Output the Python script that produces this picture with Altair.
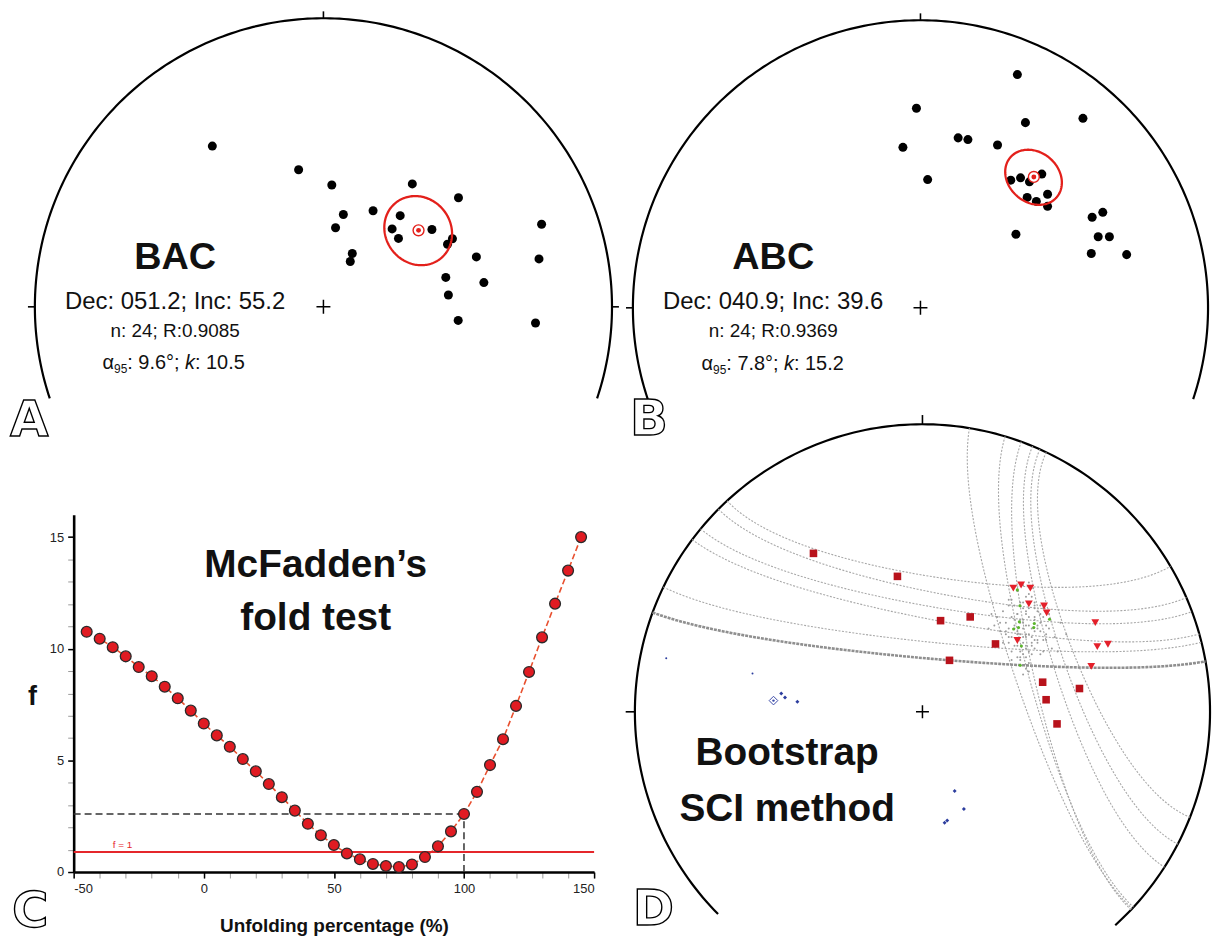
import numpy as np
import pandas as pd
import altair as alt

FONT = "Liberation Sans, Arial, Helvetica, sans-serif"
LETTER_FONT = "DejaVu Sans, Liberation Sans, Arial, sans-serif"
RED = "#e3201b"

# ------------------------------------------------------------------ data
# Panel A - BAC directions, equal-area positions (primitive radius = 1)
bac_east = [-0.385, -0.086, 0.029, 0.308, 0.468, 0.069, 0.172, 0.266, 0.042, 0.238, 0.376, 0.260,
            0.447, 0.430, 0.100, 0.093, 0.530, 0.756, 0.747, 0.424, 0.556, 0.433, 0.467, 0.735]
bac_north = [0.557, 0.475, 0.422, 0.426, 0.378, 0.320, 0.333, 0.316, 0.274, 0.270, 0.268, 0.237,
             0.236, 0.217, 0.185, 0.157, 0.173, 0.286, 0.166, 0.102, 0.084, 0.041, -0.047, -0.056]
bac_mean = [51.2, 55.2]          # Dec, Inc
bac_a95 = 9.6
bac_lines = ["BAC", "Dec: 051.2; Inc: 55.2", "n: 24; R:0.9085"]
bac_stats = [": 9.6°; ", ": 10.5"]

# Panel B - ABC directions
abc_east = [0.337, -0.014, 0.365, 0.565, 0.131, 0.165, -0.061, 0.268, 0.025, 0.314, 0.348, 0.379,
            0.422, 0.371, 0.403, 0.442, 0.442, 0.332, 0.597, 0.634, 0.618, 0.657, 0.594, 0.717]
abc_north = [0.811, 0.694, 0.644, 0.659, 0.591, 0.585, 0.558, 0.566, 0.446, 0.444, 0.452, 0.438,
             0.465, 0.384, 0.370, 0.395, 0.353, 0.256, 0.315, 0.332, 0.247, 0.247, 0.189, 0.185]
abc_mean = [40.9, 39.6]
abc_a95 = 7.8
abc_lines = ["ABC", "Dec: 040.9; Inc: 39.6", "n: 24; R:0.9369"]
abc_stats = [": 7.8°; ", ": 15.2"]

# Panel C - McFadden's fold test
fold_pct = [-45, -40, -35, -30, -25, -20, -15, -10, -5, 0, 5, 10, 15, 20, 25, 30, 35, 40, 45, 50,
            55, 60, 65, 70, 75, 80, 85, 90, 95, 100, 105, 110, 115, 120, 125, 130, 135, 140, 145]
fold_f = [10.76, 10.45, 10.07, 9.66, 9.18, 8.77, 8.30, 7.78, 7.23, 6.65, 6.12, 5.61, 5.06, 4.51,
          3.94, 3.35, 2.75, 2.16, 1.65, 1.21, 0.83, 0.57, 0.36, 0.27, 0.22, 0.34, 0.67, 1.15,
          1.82, 2.60, 3.59, 4.79, 5.95, 7.44, 8.96, 10.51, 12.02, 13.50, 15.00]
fold_f_one = 0.9
fold_crit_f = 2.6
fold_crit_pct = 100

# Panel D - bootstrap SCI: small circles (horizontal axis azimuth, half angle)
sci_axis_az = [8.4, 10.7, 9.55, 10.55, 5.85, 5.05, 71.3, 74.75, 76.8, 72.6, 70.75, 68.5]
sci_half = [51.2, 55.9, 60.05, 63.75, 70.15, 74.85, 61.9, 58.05, 56.7, 50.1, 46.65, 43.0]
sci_thick = [0, 0, 0, 0, 0, 1, 0, 0, 0, 0, 0, 0]
sq_east = [-0.379, -0.087, 0.063, 0.166, 0.254, 0.094, 0.418, 0.546, 0.430, 0.468]
sq_north = [0.551, 0.471, 0.317, 0.330, 0.236, 0.179, 0.103, 0.081, 0.042, -0.042]
tri_east = [0.316, 0.343, 0.375, 0.370, 0.423, 0.432, 0.601, 0.330, 0.608, 0.645, 0.587]
tri_north = [0.430, 0.441, 0.430, 0.375, 0.368, 0.344, 0.310, 0.248, 0.227, 0.235, 0.158]
grn_east = [0.330, 0.339, 0.442, 0.337, 0.334, 0.317, 0.389, 0.387, 0.344, 0.340]
grn_north = [0.424, 0.369, 0.322, 0.313, 0.293, 0.288, 0.307, 0.293, 0.229, 0.162]
blue_east = [-0.491, -0.478, -0.435, 0.112, 0.144, 0.077, 0.086]
blue_north = [0.064, 0.050, 0.035, -0.275, -0.338, -0.386, -0.378]
blue_tiny_east = [-0.891, -0.591]
blue_tiny_north = [0.186, 0.133]
blue_mean = [-0.518, 0.039]
cloud_east = [0.36, 0.33, 0.39, 0.35, 0.31, 0.41, 0.37, 0.34, 0.38, 0.32,
              0.40, 0.36, 0.29, 0.43, 0.35, 0.37, 0.33, 0.39, 0.30, 0.42,
              0.34, 0.38, 0.36, 0.32, 0.44, 0.27, 0.37, 0.40, 0.35, 0.31,
              0.39, 0.33, 0.46, 0.36, 0.25, 0.38, 0.34, 0.41, 0.30, 0.37,
              0.35, 0.42, 0.28, 0.39, 0.33, 0.36, 0.48, 0.31, 0.38, 0.23,
              0.34, 0.40, 0.37, 0.32, 0.45, 0.36, 0.29, 0.41, 0.35, 0.39,
              0.26, 0.43, 0.33, 0.37, 0.50, 0.30, 0.38, 0.35, 0.42, 0.32,
              0.31, 0.35, 0.38, 0.33, 0.40, 0.36, 0.29, 0.42, 0.37, 0.34,
              0.39, 0.32, 0.36, 0.41, 0.28, 0.35, 0.38, 0.33, 0.44, 0.30,
              0.37, 0.34, 0.40, 0.36, 0.31, 0.39, 0.35, 0.27, 0.43, 0.38,
              0.33, 0.36, 0.41, 0.30, 0.37, 0.24, 0.47, 0.34, 0.39, 0.35]
cloud_north = [0.30, 0.27, 0.32, 0.24, 0.33, 0.28, 0.36, 0.21, 0.26, 0.29,
               0.35, 0.19, 0.31, 0.25, 0.38, 0.30, 0.34, 0.22, 0.26, 0.33,
               0.27, 0.40, 0.23, 0.37, 0.29, 0.28, 0.17, 0.24, 0.32, 0.21,
               0.28, 0.42, 0.26, 0.34, 0.30, 0.20, 0.31, 0.37, 0.24, 0.27,
               0.44, 0.21, 0.35, 0.36, 0.25, 0.15, 0.31, 0.39, 0.23, 0.29,
               0.18, 0.30, 0.41, 0.32, 0.22, 0.26, 0.27, 0.34, 0.13, 0.38,
               0.33, 0.30, 0.19, 0.45, 0.27, 0.37, 0.16, 0.29, 0.25, 0.23,
               0.26, 0.31, 0.29, 0.34, 0.25, 0.22, 0.28, 0.36, 0.33, 0.19,
               0.37, 0.30, 0.27, 0.31, 0.24, 0.36, 0.24, 0.28, 0.34, 0.39,
               0.21, 0.32, 0.29, 0.40, 0.18, 0.25, 0.20, 0.31, 0.27, 0.43,
               0.23, 0.35, 0.20, 0.29, 0.14, 0.34, 0.21, 0.38, 0.33, 0.26]


# ------------------------------------------------------------------ geometry helpers
def eqarea(dec, inc):
    d = np.radians(np.asarray(dec, float))
    i = np.radians(np.asarray(inc, float))
    r = np.sqrt(2.0) * np.sin((np.pi / 2 - i) / 2)
    return r * np.sin(d), r * np.cos(d)


def vec_proj(n, e, z):
    dec = np.degrees(np.arctan2(e, n))
    inc = np.degrees(np.arcsin(np.clip(z, -1, 1)))
    return eqarea(dec, inc)


def cone(dec, inc, ang, n=181):
    d, i, a = np.radians([dec, inc, ang])
    m = np.array([np.cos(i) * np.cos(d), np.cos(i) * np.sin(d), np.sin(i)])
    u = np.cross(m, [0, 0, 1.0]); u /= np.linalg.norm(u)
    v = np.cross(m, u)
    t = np.linspace(0, 2 * np.pi, n)
    p = np.cos(a) * m[:, None] + np.sin(a) * (np.outer(u, np.cos(t)) + np.outer(v, np.sin(t)))
    return vec_proj(*p)


def sci_arc(beta, psi, n=121):
    b, s = np.radians([beta, psi])
    a = np.array([np.cos(b), np.sin(b), 0.0])
    w = np.array([-np.sin(b), np.cos(b), 0.0])
    down = np.array([0.0, 0.0, 1.0])
    t = np.linspace(-np.pi / 2, np.pi / 2, n)
    p = np.cos(s) * a[:, None] + np.sin(s) * (np.outer(down, np.cos(t)) + np.outer(w, np.sin(t)))
    return vec_proj(*p)


def primitive(az0, az1, n=240):
    az = np.radians(np.linspace(az0, az1, n))
    return np.sin(az), np.cos(az)


def lines_df(curves):
    rows = []
    for g, (xs, ys) in enumerate(curves):
        for i, (a, b) in enumerate(zip(xs, ys)):
            rows.append((g, i, float(a), float(b)))
    return pd.DataFrame(rows, columns=["g", "i", "x", "y"])


def pos(xd, yd):
    return {"x": alt.X("x:Q", scale=alt.Scale(domain=xd, nice=False, zero=False), axis=None),
            "y": alt.Y("y:Q", scale=alt.Scale(domain=yd, nice=False, zero=False), axis=None)}


def L_line(df, xd, yd, **mk):
    return alt.Chart(df).mark_line(**mk).encode(**pos(xd, yd), order=alt.Order("i:Q"), detail="g:N")


def L_pts(x, y, xd, yd, **mk):
    return alt.Chart(pd.DataFrame({"x": x, "y": y})).mark_point(**mk).encode(**pos(xd, yd))


def L_text(x, y, t, xd, yd, **mk):
    df = pd.DataFrame({"x": [x], "y": [y], "t": [t]})
    return alt.Chart(df).mark_text(**mk).encode(**pos(xd, yd), text="t:N")


def L_rules(x, y, x2, y2, xd, yd, **mk):
    df = pd.DataFrame({"x": x, "y": y, "x2": x2, "y2": y2})
    return alt.Chart(df).mark_rule(**mk).encode(**pos(xd, yd), x2="x2:Q", y2="y2:Q")


PLUS = "M-1,0L1,0M0,-1L0,1"


def frame(xd, yd, az0, az1, tick_az, tick_len, plus_size):
    px, py = primitive(az0, az1)
    out = [L_line(lines_df([(px, py)]), xd, yd, color="black", strokeWidth=2.2)]
    ta = np.radians(tick_az)
    out.append(L_rules(list(np.sin(ta)), list(np.cos(ta)),
                       list(np.sin(ta) * (1 + tick_len)), list(np.cos(ta) * (1 + tick_len)),
                       xd, yd, color="black", strokeWidth=1.6))
    out.append(L_pts([0.0], [0.0], xd, yd, shape=PLUS, filled=False, color="black",
                     strokeWidth=1.5, size=plus_size, opacity=1))
    return out


def letter(x, y, t, xd, yd):
    return L_text(x, y, t, xd, yd, font=LETTER_FONT, fontSize=50, fontWeight="bold", fill="white",
                  stroke="black", strokeWidth=1.4, align="left", baseline="alphabetic")


def mean_panel(east, north, mean, a95, lines, stats, tag, w, h, cx, cy, R, tcx, ys, ax0, ticks):
    xd = [-cx / R, (w - cx) / R]
    yd = [-(h - cy) / R, cy / R]
    L = frame(xd, yd, -108.5, 108.5, ticks, 0.024, 196)
    L.append(L_pts(east, north, xd, yd, filled=True, color="black", size=82, opacity=1))
    cxs, cys = cone(mean[0], mean[1], a95)
    L.append(L_line(lines_df([(cxs, cys)]), xd, yd, color=RED, strokeWidth=2.3))
    mx, my = eqarea(mean[0], mean[1])
    L.append(L_pts([float(mx)], [float(my)], xd, yd, filled=True, fill="white", stroke=RED,
                   strokeWidth=1.4, size=120, opacity=1))
    L.append(L_pts([float(mx)], [float(my)], xd, yd, filled=True, color=RED, size=24, opacity=1))
    L.append(L_text(tcx, ys[0], lines[0], xd, yd, font=FONT, fontSize=38, fontWeight="bold",
                    color="#111", align="center", baseline="alphabetic"))
    L.append(L_text(tcx, ys[1], lines[1], xd, yd, font=FONT, fontSize=24, color="#111",
                    align="center", baseline="alphabetic"))
    L.append(L_text(tcx, ys[2], lines[2], xd, yd, font=FONT, fontSize=19, color="#111",
                    align="center", baseline="alphabetic"))
    # alpha95 line built from segments (alpha, subscript 95, value, italic k, value)
    offs = [0, 11.6, 24.9, 82.9, 92.9]
    segs = [("α", 20, "normal", 0), ("95", 12, "normal", 4), (stats[0], 20, "normal", 0),
            ("k", 20, "italic", 0), (stats[1], 20, "normal", 0)]
    for off, (t, fs, st, dy) in zip(offs, segs):
        L.append(L_text(ax0 + off / R, ys[3], t, xd, yd, font=FONT, fontSize=fs, fontStyle=st,
                        dy=dy, color="#111", align="left", baseline="alphabetic"))
    L.append(letter(tag[1], tag[2], tag[0], xd, yd))
    return alt.layer(*L).properties(width=w, height=h)


# ------------------------------------------------------------------ panel A / B
panelA = mean_panel(bac_east, bac_north, bac_mean, bac_a95, bac_lines, bac_stats,
                    ("A", -1.086, -0.448), 612, 402, 317, 297, 290, -0.514,
                    [0.132, -0.008, -0.103, -0.217], -0.7655, [0, 270, 90])
panelB = mean_panel(abc_east, abc_north, abc_mean, abc_a95, abc_lines, abc_stats,
                    ("B", -1.010, -0.443), 595, 402, 305, 298, 289, -0.512,
                    [0.136, -0.0045, -0.100, -0.2156], -0.7612, [0, 270])

# ------------------------------------------------------------------ panel C
dfC = pd.DataFrame({"u": fold_pct, "f": fold_f})
xsc = alt.Scale(domain=[-50, 150], nice=False, zero=False)
ysc = alt.Scale(domain=[0, 16], nice=False, zero=False)


def cx_(field="u", axis=None):
    return alt.X(f"{field}:Q", scale=xsc, axis=axis)


def cy_(field="f", axis=None):
    return alt.Y(f"{field}:Q", scale=ysc, axis=axis)


minor_x = alt.Axis(values=list(range(-50, 151, 10)), labels=False, ticks=True, tickColor="#9a9a9a",
                   tickSize=6, tickWidth=1, domain=False, grid=False, title=None, orient="bottom")
minor_y = alt.Axis(values=list(range(0, 16)), labels=False, ticks=True, tickColor="#9a9a9a",
                   tickSize=6, tickWidth=1, domain=False, grid=False, title=None, orient="left")
major_x = alt.Axis(values=[-50, 0, 50, 100, 150], labelFont=FONT, labelFontSize=13,
                   labelColor="#222", labelPadding=5, tickColor="black", tickSize=6, tickWidth=1.5,
                   domainColor="black", domainWidth=2.6, grid=False, orient="bottom",
                   labelExpr="replace(datum.label, '\u2212', '-')",
                   title="Unfolding percentage (%)", titleFont=FONT, titleFontSize=19,
                   titleFontWeight="bold", titleColor="#111", titleY=60, titleBaseline="alphabetic")
major_y = alt.Axis(values=[0, 5, 10, 15], labelFont=FONT, labelFontSize=13, labelColor="#222",
                   labelPadding=4, tickColor="black", tickSize=6, tickWidth=1.5,
                   domainColor="black", domainWidth=2.6, grid=False, orient="left",
                   title="f", titleFont=FONT, titleFontSize=27, titleFontWeight="bold",
                   titleColor="#111", titleAngle=0, titleX=-42, titleY=183, titleAlign="center",
                   titleBaseline="middle")

c_line = alt.Chart(dfC).mark_line(color="#e8502f", strokeDash=[6, 3], strokeWidth=1.6).encode(
    x=cx_(axis=minor_x), y=cy_(axis=minor_y))
c_red = alt.Chart(pd.DataFrame({"u": [-50], "u2": [150], "f": [fold_f_one]})).mark_rule(
    color="#e5262b", strokeWidth=2).encode(x=cx_(), x2="u2:Q", y=cy_())
c_hd = alt.Chart(pd.DataFrame({"u": [-50], "u2": [fold_crit_pct], "f": [fold_crit_f]})).mark_rule(
    color="#333", strokeWidth=1.5, strokeDash=[7, 4]).encode(x=cx_(), x2="u2:Q", y=cy_())
c_vd = alt.Chart(pd.DataFrame({"u": [fold_crit_pct], "f": [0], "f2": [fold_crit_f]})).mark_rule(
    color="#333", strokeWidth=1.5, strokeDash=[7, 4]).encode(x=cx_(), y=cy_(), y2="f2:Q")
c_pts = alt.Chart(dfC).mark_point(filled=True, fill="#e01b22", stroke="#2a2a2a", strokeWidth=1.3,
                                  size=118, opacity=1).encode(x=cx_(axis=major_x), y=cy_(axis=major_y))


def c_text(u, f, t, **mk):
    return alt.Chart(pd.DataFrame({"u": [u], "f": [f], "t": [t]})).mark_text(**mk).encode(
        x=cx_(), y=cy_(), text="t:N")


c_t1 = c_text(43, 13.2, "McFadden\u2019s", font=FONT, fontSize=39, fontWeight="bold",
              color="#111", align="center", baseline="alphabetic")
c_t2 = c_text(43, 10.85, "fold test", font=FONT, fontSize=39, fontWeight="bold",
              color="#111", align="center", baseline="alphabetic")
c_t3 = c_text(-35, fold_f_one, "f = 1", font=FONT, fontSize=10, color="#e5262b",
              align="left", baseline="bottom", dy=-2)
c_t4 = c_text(-73.7, -2.45, "C", font=LETTER_FONT, fontSize=50, fontWeight="bold", fill="white",
              stroke="black", strokeWidth=1.4, align="left", baseline="alphabetic")

panelC = alt.layer(c_line, c_hd, c_vd, c_red, c_pts, c_t1, c_t2, c_t3, c_t4).resolve_axis(
    x="independent", y="independent").properties(width=523, height=359)

spacer = alt.Chart(pd.DataFrame({"x": [0], "y": [0]})).mark_point(opacity=0).encode(
    x=alt.X("x:Q", axis=None), y=alt.Y("y:Q", axis=None)).properties(width=66, height=359)

# ------------------------------------------------------------------ panel D
wD, hD, cxD, cyD, RD = 595, 520, 307, 302, 289
xdD = [-cxD / RD, (wD - cxD) / RD]
ydD = [-(hD - cyD) / RD, cyD / RD]
LD = frame(xdD, ydD, -134.7, 137.9, [0, 270], 0.032, 169)
thin = [sci_arc(b, p) for b, p, k in zip(sci_axis_az, sci_half, sci_thick) if not k]
thick = [sci_arc(b, p) for b, p, k in zip(sci_axis_az, sci_half, sci_thick) if k]
LD.append(L_line(lines_df(thin), xdD, ydD, color="#a8a8a8", strokeWidth=1.1, strokeDash=[2, 1.5]))
LD.append(L_line(lines_df(thick), xdD, ydD, color="#8f8f8f", strokeWidth=2.6, strokeDash=[3, 1]))
LD.append(L_pts(cloud_east, cloud_north, xdD, ydD, filled=True, color="#9c9c9c", size=4, opacity=1))
LD.append(L_pts(grn_east, grn_north, xdD, ydD, filled=True, color="#5bb52c", size=10, opacity=1))
LD.append(L_pts(sq_east, sq_north, xdD, ydD, filled=True, shape="square", color="#b8121b",
                size=58, opacity=1))
LD.append(L_pts(tri_east, tri_north, xdD, ydD, filled=True, shape="triangle-down", color="#e4202a",
                size=62, opacity=1))
LD.append(L_pts(blue_east, blue_north, xdD, ydD, filled=True, shape="diamond", color="#2c3d9e",
                size=16, opacity=1))
LD.append(L_pts(blue_tiny_east, blue_tiny_north, xdD, ydD, filled=True, color="#2c3d9e",
                size=4, opacity=1))
LD.append(L_pts([blue_mean[0]], [blue_mean[1]], xdD, ydD, filled=False, shape="diamond",
                color="#3b4ba8", strokeWidth=1, size=75, opacity=1))
LD.append(L_pts([blue_mean[0]], [blue_mean[1]], xdD, ydD, filled=True, color="#3b4ba8",
                size=6, opacity=1))
LD.append(L_text(-0.4705, -0.184, "Bootstrap", xdD, ydD, font=FONT, fontSize=39,
                 fontWeight="bold", color="#111", align="center", baseline="alphabetic"))
LD.append(L_text(-0.4705, -0.381, "SCI method", xdD, ydD, font=FONT, fontSize=39,
                 fontWeight="bold", color="#111", align="center", baseline="alphabetic"))
LD.append(letter(-1.007, -0.740, "D", xdD, ydD))
panelD = alt.layer(*LD).properties(width=wD, height=hD)

# ------------------------------------------------------------------ layout
# nested columns are laid out "flush": the left column counts as zero width,
# so the column gap equals the left column's width (612 px)
left = alt.vconcat(panelA, alt.hconcat(spacer, panelC, spacing=0, bounds="flush"),
                   spacing=104, bounds="flush")
right = alt.vconcat(panelB, panelD, spacing=0, bounds="flush")
chart = alt.hconcat(left, right, spacing=612, bounds="flush").properties(
    padding=0, background="white").configure_view(stroke=None)

chart.save("out.html", embed_options={"renderer": "svg", "actions": False})
